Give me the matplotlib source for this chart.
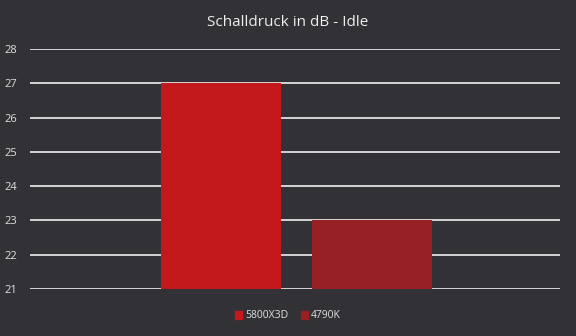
import matplotlib
matplotlib.use('Agg')
import matplotlib.pyplot as plt
from matplotlib.patches import Patch

# Daten
series = ['5800X3D', '4790K']
values = [27, 23]
colors = ['#C3191C', '#962024']
yticks = [21, 22, 23, 24, 25, 26, 27, 28]

bg = '#323136'
txt = '#E0E0E0'

plt.rcParams['font.family'] = ['Open Sans', 'DejaVu Sans']

fig = plt.figure(figsize=(5.76, 3.36), dpi=100, facecolor=bg)
ax = fig.add_axes([30/576, 47/336, 530/576, 240/336], facecolor=bg)

# eine Kategorie, zwei Serien nebeneinander
width = 0.225
gap = 0.06
center = 0.503
offsets = [-(width + gap) / 2, (width + gap) / 2]
for i, (name, v) in enumerate(zip(series, values)):
    ax.bar(center + offsets[i], v - yticks[0], bottom=yticks[0], width=width,
           color=colors[i], label=name, zorder=2)

ax.set_axisbelow(True)
ax.set_xlim(0, 1)
ax.set_ylim(yticks[0], yticks[-1])
ax.set_yticks(yticks)
ax.set_yticklabels([str(t) for t in yticks], color=txt, fontsize=8)
ax.set_xticks([])
ax.tick_params(axis='y', length=0, pad=9)
ax.grid(axis='y', color='white', linewidth=1.1)
for s in ax.spines.values():
    s.set_visible(False)

fig.text(0.5, 1 - 22/336, 'Schalldruck in dB - Idle', ha='center', va='center',
         color='#EEEEEE', fontsize=11)

handles = [Patch(color=c, label=n) for n, c in zip(series, colors)]
fig.legend(handles=handles, loc='center', bbox_to_anchor=(0.5, 1 - 316/336),
           ncol=2, frameon=False, fontsize=7.5, labelcolor=txt,
           handlelength=0.7, handleheight=0.7, handletextpad=0.3, columnspacing=1.2)

fig.savefig('out.png', dpi=100, facecolor=bg)
